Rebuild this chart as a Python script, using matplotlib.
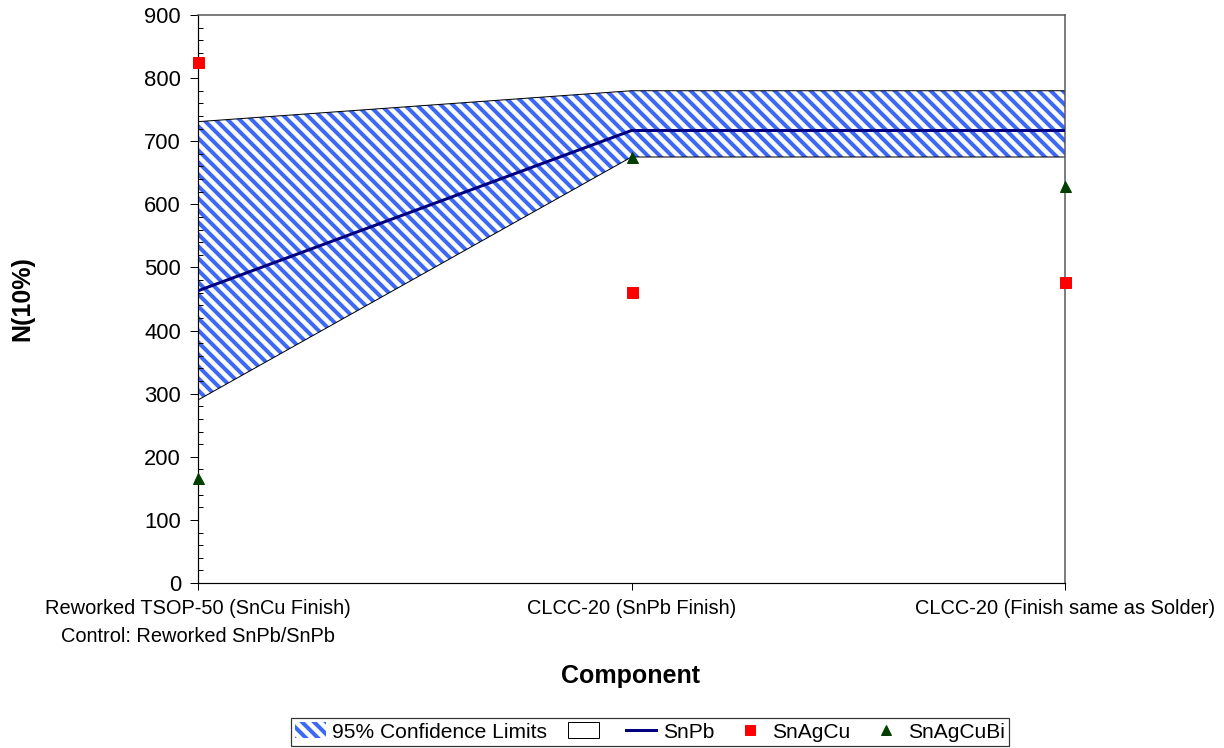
#!/usr/bin/env python3
# -*- coding: utf-8 -*-

import matplotlib
matplotlib.use('Agg')
import matplotlib.pyplot as plt
from matplotlib.lines   import Line2D
from matplotlib.patches import Patch
from matplotlib.ticker  import MultipleLocator


components = [ 'Reworked TSOP-50 (SnCu Finish)\nControl: Reworked SnPb/SnPb'
             , 'CLCC-20 (SnPb Finish)'
             , 'CLCC-20 (Finish same as Solder)'
             ]
ci_lower   = [290, 675, 675]
ci_upper   = [731, 780, 780]
snpb       = [463, 717, 717]
snagcu     = [826, 461, 477]
snagcubi   = [167, 675, 629]

HATCH_BLUE = '#3B68F5'
NAVY       = '#000080'
RED        = '#FF0000'
DARK_GREEN = '#003F00'

W, H = 1224, 748


def main():

    plt.rcParams['font.family']     = ['Liberation Sans', 'DejaVu Sans']
    plt.rcParams['hatch.linewidth'] = 4.0

    # dpi 72 so that one point is one pixel
    fig = plt.figure(figsize=(W / 72, H / 72), dpi=72)
    ax  = fig.add_axes([198 / W, 1 - 583 / H, 867 / W, 568 / H])

    x = list(range(len(components)))

    # confidence band: white fill with blue diagonal hatch, black outline
    ax.fill_between(x, ci_lower, ci_upper, facecolor='white',
                    edgecolor=HATCH_BLUE, hatch='\\\\', linewidth=0, zorder=1)
    ax.plot(x, ci_upper, color='black', lw=1.0, zorder=2)
    ax.plot(x, ci_lower, color='black', lw=1.0, zorder=2)

    ax.plot(x, snpb, color=NAVY, lw=3, zorder=3)
    ax.plot(x, snagcu, ls='none', marker='s', ms=11, color=RED,
            clip_on=False, zorder=4)
    ax.plot(x, snagcubi, ls='none', marker='^', ms=11, color=DARK_GREEN,
            clip_on=False, zorder=4)

    ax.set_xlim(0, 2)
    ax.set_ylim(0, 900)
    ax.set_xticks(x)
    ax.set_xticklabels(components, fontsize=20, linespacing=1.6)
    ax.yaxis.set_major_locator(MultipleLocator(100))
    ax.yaxis.set_minor_locator(MultipleLocator(20))
    ax.tick_params(axis='y', which='major', direction='out', length=8,
                   width=1, labelsize=22, pad=9)
    ax.tick_params(axis='y', which='minor', direction='in', length=5,
                   width=1)
    ax.tick_params(axis='x', direction='out', length=7, width=1, pad=9)

    for side in ('top', 'right'):
        ax.spines[side].set_color('#555555')
        ax.spines[side].set_linewidth(1.5)
    for side in ('left', 'bottom'):
        ax.spines[side].set_color('black')
        ax.spines[side].set_linewidth(1.2)

    fig.text(22 / W, 1 - 299 / H, 'N(10%)', rotation=90, fontsize=25,
             fontweight='bold', ha='center', va='center')
    fig.text(631 / W, 1 - 676 / H, 'Component', fontsize=25,
             fontweight='bold', ha='center', va='center')

    handles = [ Patch(facecolor='white', edgecolor=HATCH_BLUE, hatch='\\\\',
                      linewidth=0)
              , Patch(facecolor='white', edgecolor='black', linewidth=1)
              , Line2D([], [], color=NAVY, lw=3)
              , Line2D([], [], ls='none', marker='s', ms=10, color=RED)
              , Line2D([], [], ls='none', marker='^', ms=10, color=DARK_GREEN)
              ]
    labels  = ['95% Confidence Limits', '', 'SnPb', 'SnAgCu', 'SnAgCuBi']
    leg = fig.legend(handles, labels, loc='center',
                     bbox_to_anchor=(650 / W, 1 - 732 / H), ncol=5,
                     fontsize=21, frameon=True, fancybox=False,
                     edgecolor='black', handlelength=1.45, handleheight=0.75,
                     handletextpad=0.3, columnspacing=1.0,
                     borderpad=0.2, borderaxespad=0)
    leg.get_frame().set_linewidth(1.2)

    fig.savefig('out.png', dpi=72, facecolor='white')


if __name__ == '__main__':
    main()
